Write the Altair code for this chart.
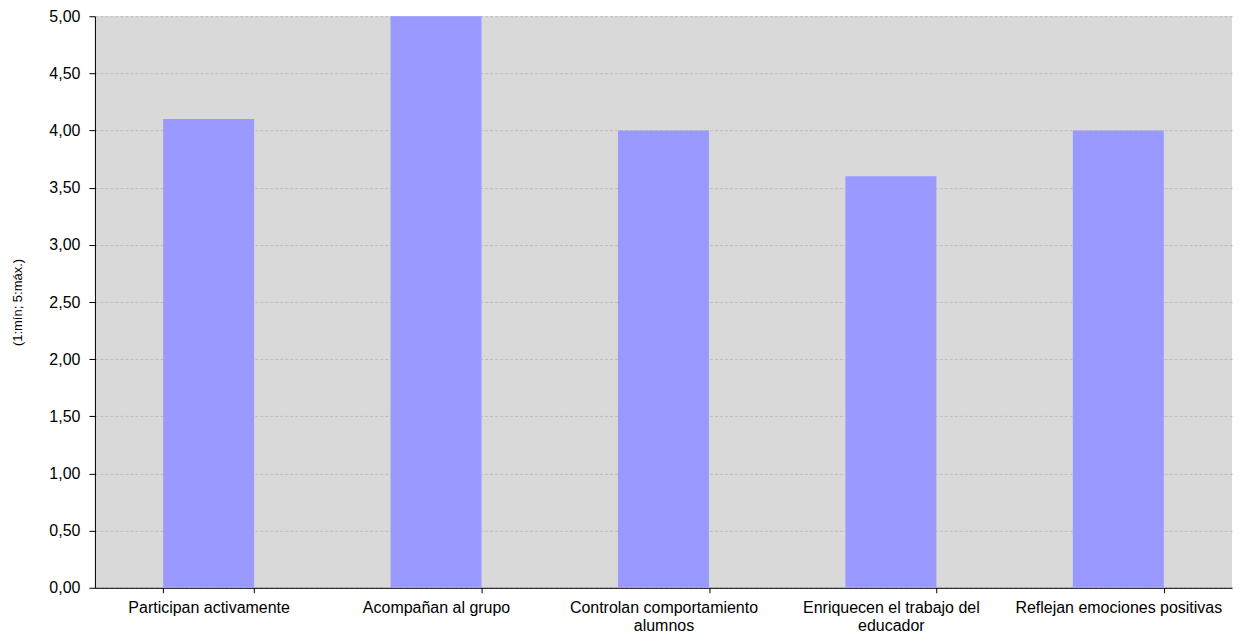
import altair as alt
import pandas as pd

categories = [
    "Participan activamente",
    "Acompañan al grupo",
    "Controlan comportamiento alumnos",
    "Enriquecen el trabajo del educador",
    "Reflejan emociones positivas",
]
label_lines = [
    ["Participan activamente"],
    ["Acompañan al grupo"],
    ["Controlan comportamiento", "alumnos"],
    ["Enriquecen el trabajo del", "educador"],
    ["Reflejan emociones positivas"],
]
values = [4.10, 5.00, 4.00, 3.60, 4.00]
y_title = "(1:mín; 5:máx.)"

df = pd.DataFrame({"cat": categories, "val": values})

expr = ""
for c, lines in zip(categories, label_lines):
    arr = "[" + ",".join("'" + l + "'" for l in lines) + "]"
    expr += f"datum.label == '{c}' ? {arr} : "
expr += "datum.label"

FONT = "Liberation Sans"

chart = alt.Chart(df).mark_bar(color="#9999ff").encode(
    x=alt.X(
        "cat:N",
        sort=categories,
        title=None,
        scale=alt.Scale(paddingInner=0.6, paddingOuter=0.3),
        axis=alt.Axis(
            labelAngle=0,
            labelExpr=expr,
            labelLimit=400,
            tickBand="extent",
            grid=False,
            domainColor="black",
            tickColor="black",
            tickSize=5,
            labelPadding=7,
            labelFontSize=16,
            labelColor="black",
            labelFont=FONT,
            labelLineHeight=18,
        ),
    ),
    y=alt.Y(
        "val:Q",
        title=y_title,
        scale=alt.Scale(domain=[0, 5], nice=False),
        axis=alt.Axis(
            values=[0, 0.5, 1, 1.5, 2, 2.5, 3, 3.5, 4, 4.5, 5],
            labelExpr="replace(format(datum.value, '.2f'), '.', ',')",
            grid=True,
            gridColor="#bdbdbd",
            gridDash=[3, 2],
            gridWidth=1,
            domainColor="black",
            tickColor="black",
            tickSize=6,
            labelPadding=9,
            labelFontSize=16,
            labelColor="black",
            labelFont=FONT,
            titleFont=FONT,
            titleFontSize=13,
            titleFontWeight="normal",
            titleColor="black",
            titlePadding=24,
        ),
    ),
).properties(
    width=1138,
    height=572,
    background="white",
    padding={"left": 3, "top": 0, "right": 5, "bottom": 0},
).configure_view(
    fill="#d9d9d9",
    strokeWidth=0,
)

chart.save("out.html", embed_options={"renderer": "svg", "actions": False})
